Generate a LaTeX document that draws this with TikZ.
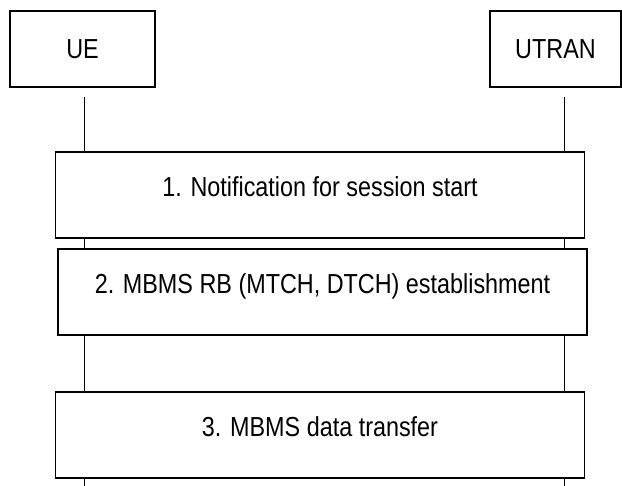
\documentclass[tikz,border=0pt]{standalone}
\usepackage{fontspec}
\setmainfont[FakeStretch=0.85]{Liberation Sans}
\begin{document}
\begin{tikzpicture}[x=1pt, y=-1pt,
   every node/.style={draw, rectangle, line width=1.1pt, fill=white,
                      font=\fontsize{27.5}{30}\selectfont},
   entity/.style={minimum height=76pt},
   procbox/.style={minimum width=529pt, minimum height=86pt,
                   text height=20pt, text depth=16pt},
   lifeline/.style={line width=0.8pt}]

\useasboundingbox (0,0) rectangle (622,486);

\node[entity, minimum width=145pt] (ue) at (82.5,49) {UE};
\node[entity, minimum width=131pt] (utran) at (555.5,49) {UTRAN};

% lifelines
\coordinate (ue-top) at (84,97);
\coordinate (ue-end) at (84,486);
\coordinate (utran-top) at (564,97);
\coordinate (utran-end) at (564,486);
\draw[lifeline] (ue-top) -- (ue-end);
\draw[lifeline] (utran-top) -- (utran-end);

% procedures
\node[procbox] (proc1) at (320,195) {1. Notification for session start};
\node[procbox] (proc2) at (322.5,292) {2. MBMS RB (MTCH, DTCH) establishment};
\node[procbox] (proc3) at (320,435) {3. MBMS data transfer};

\end{tikzpicture}
\end{document}
